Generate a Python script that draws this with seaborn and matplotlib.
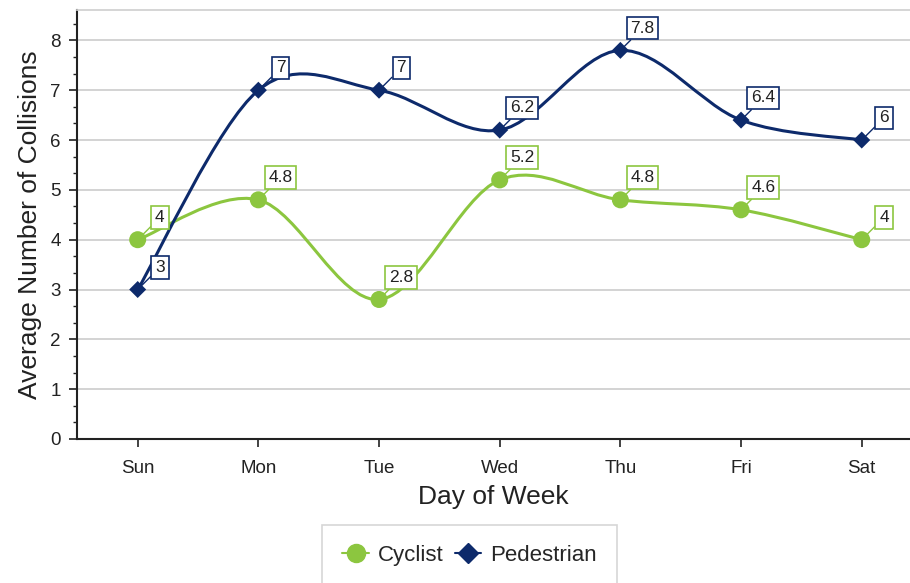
import numpy as np
import pandas as pd
import matplotlib
matplotlib.use("Agg")
import matplotlib.pyplot as plt
import seaborn as sns
from matplotlib.path import Path
from matplotlib.patches import PathPatch
from matplotlib.lines import Line2D
from matplotlib.ticker import MultipleLocator

# data
days = ['Sun', 'Mon', 'Tue', 'Wed', 'Thu', 'Fri', 'Sat']
cyclist = [4, 4.8, 2.8, 5.2, 4.8, 4.6, 4]
pedestrian = [3, 7, 7, 6.2, 7.8, 6.4, 6]

green = '#8cc63f'
navy = '#0d2a6b'

sns.set_theme(style='white')
plt.rcParams['font.family'] = ['Liberation Sans', 'DejaVu Sans']

df = pd.DataFrame({
    'day': list(range(len(days))) * 2,
    'value': cyclist + pedestrian,
    'series': ['Cyclist'] * len(days) + ['Pedestrian'] * len(days),
})

fig = plt.figure(figsize=(9.1, 5.83), dpi=100)
ax = fig.add_axes([0.085, 0.247, 0.915, 0.735])


def smooth_path(xs, ys):
    # catmull-rom style bezier through the points (like a smoothed line)
    pts = np.column_stack([xs, ys]).astype(float)
    n = len(pts)
    verts = [pts[0]]
    codes = [Path.MOVETO]
    for i in range(n - 1):
        p0 = pts[i - 1] if i > 0 else pts[i]
        p1 = pts[i]
        p2 = pts[i + 1]
        p3 = pts[i + 2] if i + 2 < n else pts[i + 1]
        c1 = p1 + (p2 - p0) / 6.0
        c2 = p2 - (p3 - p1) / 6.0
        verts += [c1, c2, p2]
        codes += [Path.CURVE4] * 3
    return Path(verts, codes)


x = np.arange(len(days))
for vals, col in [(cyclist, green), (pedestrian, navy)]:
    ax.add_patch(PathPatch(smooth_path(x, vals), facecolor='none',
                           edgecolor=col, lw=2.2, zorder=3))

sns.scatterplot(data=df, x='day', y='value', hue='series', style='series',
                palette={'Cyclist': green, 'Pedestrian': navy},
                markers={'Cyclist': 'o', 'Pedestrian': 'D'},
                size='series', sizes={'Cyclist': 150, 'Pedestrian': 75},
                edgecolor='none', legend=False, ax=ax, zorder=4)

# data labels
for vals, col in [(cyclist, green), (pedestrian, navy)]:
    for xi, v in zip(x, vals):
        txt = f'{v:g}'
        ax.annotate(txt, (xi, v), xytext=(16, 16), textcoords='offset points',
                    ha='center', va='center', fontsize=12.5, color='#222222',
                    bbox=dict(boxstyle='square,pad=0.22', fc='white', ec=col, lw=1.2),
                    arrowprops=dict(arrowstyle='-', color=col, lw=1.0,
                                    shrinkA=0, shrinkB=2),
                    zorder=5)

ax.set_xlim(-0.5, 6.4)
ax.set_ylim(0, 8.6)
ax.set_xticks(x)
ax.set_xticklabels(days)
ax.set_yticks(range(0, 9))
ax.yaxis.set_minor_locator(MultipleLocator(1 / 3))
ax.grid(axis='y', which='major', color='#cccccc', lw=1.2)
ax.set_axisbelow(True)

ax.tick_params(axis='both', which='major', direction='out', length=6, width=1.2,
               color='#222222', labelsize=13.5, labelcolor='#222222',
               left=True, bottom=True)
ax.tick_params(axis='x', which='major', pad=9)
ax.tick_params(axis='y', which='major', pad=6)
ax.tick_params(axis='y', which='minor', direction='out', length=3, width=1.0,
               color='#222222', left=True)

for s in ['left', 'bottom']:
    ax.spines[s].set_color('#222222')
    ax.spines[s].set_linewidth(1.5)
ax.spines['top'].set_color('#d0d0d0')
ax.spines['right'].set_visible(False)

ax.set_xlabel('Day of Week', fontsize=19, color='#222222', labelpad=6)
ax.set_ylabel('Average Number of Collisions', fontsize=19, color='#222222', labelpad=6)

handles = [
    Line2D([], [], color=green, marker='o', markersize=13, lw=1.5),
    Line2D([], [], color=navy, marker='D', markersize=10, lw=1.5),
]
leg = ax.legend(handles, ['Cyclist', 'Pedestrian'], loc='upper center',
                bbox_to_anchor=(0.471, -0.174), ncol=2, frameon=True,
                fancybox=False, fontsize=16, handlelength=1.2,
                handletextpad=0.4, columnspacing=0.5, borderpad=0.9)
leg.get_frame().set_edgecolor('#cccccc')
leg.get_frame().set_linewidth(1.2)

fig.savefig('out.png', dpi=100)
